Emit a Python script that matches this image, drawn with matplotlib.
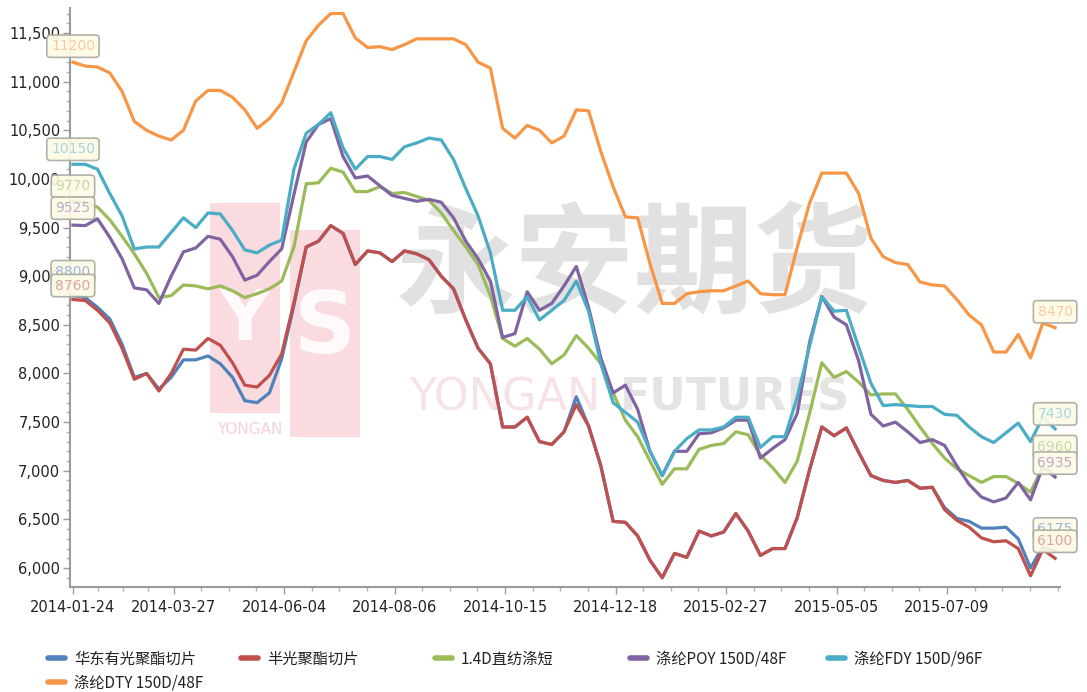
import numpy as np
import matplotlib
matplotlib.use("Agg")
import matplotlib.pyplot as plt
from matplotlib.lines import Line2D
from matplotlib.patches import Rectangle
from matplotlib.ticker import FixedLocator, FuncFormatter, MultipleLocator

plt.rcParams['font.family'] = ['DejaVu Sans', 'Noto Sans CJK SC']

# ---------------- data (weekly samples, trading-day index) ----------------
day_index = list(range(0, 401, 5))

tick_days = [0, 41, 86, 131, 176, 221, 266, 311, 356]
tick_labels = ["2014-01-24", "2014-03-27", "2014-06-04", "2014-08-06", "2014-10-15",
               "2014-12-18", "2015-02-27", "2015-05-05", "2015-07-09"]

names = ["华东有光聚酯切片", "半光聚酯切片", "1.4D直纺涤短",
         "涤纶POY 150D/48F", "涤纶FDY 150D/96F", "涤纶DTY 150D/48F"]
colors = ["#4F81BD", "#C0504D", "#9BBB59", "#8064A2", "#4BACC6", "#F79646"]

pet_bright = [8800, 8780, 8680, 8560, 8300, 7960, 8000, 7840, 7960, 8140,
              8140, 8180, 8100, 7960, 7720, 7700, 7800, 8150, 8700, 9300,
              9360, 9520, 9440, 9120, 9260, 9240, 9150, 9260, 9230, 9170,
              9000, 8870, 8550, 8260, 8100, 7450, 7450, 7550, 7300, 7270,
              7400, 7760, 7460, 7050, 6480, 6470, 6330, 6080, 5900, 6150,
              6110, 6380, 6330, 6370, 6560, 6380, 6130, 6200, 6200, 6520,
              7010, 7450, 7360, 7440, 7190, 6950, 6900, 6880, 6900, 6820,
              6830, 6620, 6510, 6480, 6410, 6410, 6420, 6300, 6000, 6220, 6175]
pet_semi = [8760, 8750, 8650, 8520, 8260, 7940, 8000, 7820, 8000, 8250,
            8240, 8360, 8290, 8110, 7880, 7860, 7980, 8200, 8730, 9300,
            9360, 9520, 9440, 9120, 9260, 9240, 9150, 9260, 9230, 9170,
            9000, 8870, 8550, 8260, 8100, 7450, 7450, 7550, 7300, 7270,
            7400, 7680, 7460, 7050, 6480, 6470, 6330, 6080, 5900, 6150,
            6110, 6380, 6330, 6370, 6560, 6380, 6130, 6200, 6200, 6520,
            7010, 7450, 7360, 7440, 7190, 6950, 6900, 6880, 6900, 6820,
            6830, 6600, 6490, 6420, 6310, 6270, 6280, 6200, 5920, 6190, 6100]
psf_14d = [9770, 9760, 9710, 9580, 9410, 9230, 9030, 8780, 8800, 8910,
           8900, 8870, 8900, 8850, 8780, 8820, 8870, 8950, 9300, 9950,
           9960, 10110, 10070, 9870, 9870, 9920, 9850, 9860, 9820, 9780,
           9650, 9470, 9300, 9120, 8800, 8360, 8280, 8360, 8250, 8100,
           8190, 8390, 8260, 8100, 7800, 7520, 7350, 7100, 6860, 7020,
           7020, 7220, 7260, 7280, 7400, 7370, 7160, 7030, 6880, 7100,
           7590, 8110, 7960, 8020, 7910, 7780, 7790, 7790, 7630, 7450,
           7280, 7130, 7020, 6950, 6880, 6940, 6940, 6870, 6780, 7040, 6960]
poy = [9525, 9520, 9590, 9400, 9180, 8880, 8860, 8720, 9000, 9250,
       9290, 9410, 9380, 9200, 8960, 9010, 9150, 9280, 9840, 10380,
       10560, 10620, 10230, 10010, 10030, 9930, 9830, 9800, 9770, 9790,
       9760, 9600, 9360, 9180, 8950, 8370, 8410, 8840, 8650, 8720,
       8900, 9100, 8680, 8160, 7800, 7880, 7630, 7200, 6950, 7200,
       7200, 7380, 7390, 7440, 7520, 7520, 7130, 7230, 7320, 7590,
       8320, 8790, 8580, 8500, 8130, 7580, 7460, 7500, 7400, 7290,
       7320, 7260, 7050, 6860, 6730, 6680, 6720, 6880, 6700, 7040, 6935]
fdy = [10150, 10150, 10100, 9850, 9620, 9280, 9300, 9300, 9450, 9600,
       9500, 9650, 9640, 9470, 9270, 9240, 9320, 9370, 10100, 10470,
       10560, 10680, 10320, 10100, 10230, 10230, 10200, 10330, 10370, 10420,
       10400, 10200, 9900, 9620, 9240, 8650, 8650, 8790, 8550, 8650,
       8750, 8950, 8640, 8100, 7700, 7600, 7500, 7200, 6950, 7200,
       7330, 7420, 7420, 7450, 7550, 7550, 7240, 7350, 7350, 7760,
       8280, 8790, 8640, 8650, 8270, 7900, 7670, 7680, 7670, 7660,
       7660, 7580, 7570, 7450, 7350, 7290, 7390, 7490, 7300, 7550, 7430]
dty = [11200, 11160, 11150, 11090, 10900, 10590, 10500, 10440, 10400, 10500,
       10800, 10910, 10910, 10840, 10710, 10520, 10620, 10780, 11100, 11420,
       11580, 11700, 11700, 11450, 11350, 11360, 11330, 11380, 11440, 11440,
       11440, 11440, 11380, 11200, 11140, 10520, 10420, 10550, 10500, 10370,
       10440, 10710, 10700, 10280, 9920, 9610, 9600, 9130, 8720, 8720,
       8820, 8840, 8850, 8850, 8900, 8950, 8820, 8810, 8810, 9300,
       9750, 10060, 10060, 10060, 9850, 9390, 9200, 9140, 9120, 8940,
       8910, 8900, 8760, 8600, 8500, 8220, 8220, 8400, 8160, 8520, 8470]

series = [pet_bright, pet_semi, psf_14d, poy, fdy, dty]

# ---------------- figure ----------------
W, H = 1087, 692
fig = plt.figure(figsize=(W / 100, H / 100), dpi=100)
fig.patch.set_facecolor("white")
ax = fig.add_axes([70 / W, 1 - 587 / H, (1060 - 70) / W, (587 - 8) / H])
ax.set_facecolor("none")


def fx(px):
    return px / W


def fy(py):
    return 1 - py / H


# watermark (behind the axes)
fig.add_artist(Rectangle((fx(210), fy(413)), 70 / W, 210 / H, transform=fig.transFigure,
                         facecolor="#f6c3cc", edgecolor="none", alpha=0.6, zorder=-5))
fig.add_artist(Rectangle((fx(290), fy(437)), 70 / W, 207 / H, transform=fig.transFigure,
                         facecolor="#f6c3cc", edgecolor="none", alpha=0.6, zorder=-5))
fig.text(fx(245), fy(320), "Y", color="white", fontsize=50, fontweight="bold",
         ha="center", va="center", zorder=-4, alpha=0.85)
fig.text(fx(325), fy(330), "S", color="white", fontsize=62, fontweight="bold",
         ha="center", va="center", zorder=-4, alpha=0.85)
fig.text(fx(250), fy(430), "YONGAN", color="#f4d3d8", fontsize=11,
         ha="center", va="center", zorder=-4)
fig.text(fx(635), fy(268), "永安期货", color="#c4c4c4", fontsize=86, fontweight="bold",
         family="Noto Sans CJK SC", ha="center", va="center", zorder=-4, alpha=0.5)
fig.text(fx(505), fy(398), "YONGAN", color="#f3cfd6", fontsize=32,
         ha="center", va="center", zorder=-4, alpha=0.6)
fig.text(fx(735), fy(398), "FUTURES", color="#cfcfcf", fontsize=32, fontweight="bold",
         ha="center", va="center", zorder=-4, alpha=0.55)

# lines
for vals, c in zip(series, colors):
    ax.plot(day_index, vals, color=c, lw=2.3, solid_joinstyle="round", zorder=3)

ax.set_xlim(-1.2, 402)
ax.set_ylim(5805, 11757)

# axes styling
for s in ["top", "right"]:
    ax.spines[s].set_visible(False)
for s in ["left", "bottom"]:
    ax.spines[s].set_color("#9a9a9a")
    ax.spines[s].set_linewidth(1.5)

ax.yaxis.set_major_locator(MultipleLocator(500))
ax.yaxis.set_minor_locator(MultipleLocator(100))
ax.yaxis.set_major_formatter(FuncFormatter(lambda v, p: f"{int(v):,}"))
ax.tick_params(axis="y", which="major", length=5, width=1, color="#9a9a9a",
               labelsize=10.5, labelcolor="#222222", pad=2)
ax.tick_params(axis="y", which="minor", length=3, width=1, color="#b0b0b0")

minor_x = []
for a, b in zip(tick_days[:-1], tick_days[1:]):
    minor_x += list(np.linspace(a, b, 5)[1:-1])
step = (tick_days[-1] - tick_days[-2]) / 4
m = tick_days[-1] + step
while m <= 401:
    minor_x.append(m)
    m += step
ax.xaxis.set_major_locator(FixedLocator(tick_days))
ax.xaxis.set_minor_locator(FixedLocator(minor_x))
ax.set_xticklabels(tick_labels)
ax.tick_params(axis="x", which="major", length=5, width=1, color="#9a9a9a",
               labelsize=10.5, labelcolor="#222222", pad=4)
ax.tick_params(axis="x", which="minor", length=3, width=1, color="#b0b0b0")
for lbl in ax.get_xticklabels():
    lbl.set_ha("center")

# value labels at start and end
label_colors = ["#9db7d8", "#dba3a1", "#c7d9a6", "#b9aacb", "#a3d6e2", "#f9c9a0"]
start_off = [24, 14, 15, 17, 15, 16]
end_off = [22, 17, 28, 14, 15, 16]
for vals, lc, so, eo in zip(series, label_colors, start_off, end_off):
    for xi, yi, off in ((day_index[0], vals[0], so), (day_index[-1], vals[-1], eo)):
        ax.annotate(f"{yi}", xy=(xi, yi), xytext=(0, off), textcoords="offset pixels",
                    ha="center", va="center", fontsize=10, color=lc,
                    annotation_clip=False, zorder=6,
                    bbox=dict(boxstyle="round,pad=0.3,rounding_size=0.25",
                              fc="#fdfbe6", ec="#a9a9a0", lw=1.2, alpha=0.9))

# legend (one entry each, placed as in the original)
legend_pos = [(48, 659), (241, 659), (435, 659), (630, 659), (828, 659), (48, 683)]
for name, c, (px, py) in zip(names, colors, legend_pos):
    h = Line2D([], [], color=c, lw=4, solid_capstyle="round")
    lg = fig.legend([h], [name], loc="center left", bbox_to_anchor=(fx(px), fy(py)),
                    frameon=False, handlelength=1.1, handletextpad=0.6, borderpad=0,
                    borderaxespad=0,
                    prop={"family": ["Noto Sans CJK SC", "DejaVu Sans"], "size": 11})
    for t in lg.get_texts():
        t.set_color("#222222")

fig.savefig("out.png", dpi=100)
